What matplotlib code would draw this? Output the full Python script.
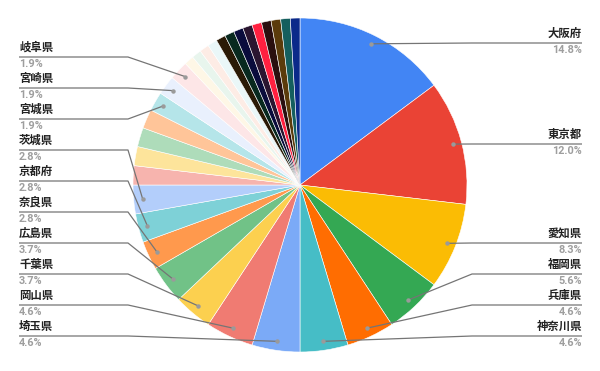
import numpy as np
import matplotlib.pyplot as plt

plt.rcParams['font.family'] = ['Noto Sans CJK JP', 'DejaVu Sans']

# slices clockwise from 12 o'clock (counts)
names = ['大阪府', '東京都', '愛知県', '福岡県', '兵庫県', '神奈川県', '埼玉県', '岡山県',
         '千葉県', '広島県', '奈良県', '京都府', '茨城県', '', '', '', '',
         '宮城県', '宮崎県', '岐阜県', '', '', '', '',
         '', '', '', '', '', '', '', '', '']
counts = [16, 13, 9, 6, 5, 5, 5, 5,
          4, 4, 3, 3, 3, 2, 2, 2, 2,
          2, 2, 2, 1, 1, 1, 1,
          1, 1, 1, 1, 1, 1, 1, 1, 1]
colors = ['#4285f4', '#ea4335', '#fbbc04', '#34a853', '#ff6d01', '#46bdc6', '#7baaf7', '#f07b72',
          '#fcd04f', '#71c287', '#ff994d', '#7ed1d7', '#b3cefb', '#f7b4ae', '#fde49b', '#aedcba', '#ffc599',
          '#b5e5e9', '#e9f0fd', '#fde6e7', '#fef7e6', '#e8f5ed', '#fdece5', '#eaf7f8',
          '#2a1a06', '#08291f', '#0a0c3c', '#2a1530', '#ff2040', '#2a0f0f', '#5b3b0b', '#155f5e', '#0b2a8a']

# label rows (y of the leader line, image pixels)
right_names = ['大阪府', '東京都', '愛知県', '福岡県', '兵庫県', '神奈川県']
right_rows = [43, 144, 243, 274, 305, 336]
left_names = ['岐阜県', '宮崎県', '宮城県', '茨城県', '京都府', '奈良県', '広島県', '千葉県', '岡山県', '埼玉県']
left_rows = [57, 88, 119, 150, 181, 212, 243, 274, 305, 336]

W, H = 600, 371
fig = plt.figure(figsize=(6, 3.71), dpi=100)
ax = fig.add_axes([0, 0, 1, 1])

cx, cy, R = 300, H - 185, 167
wedges, _ = ax.pie(counts, colors=colors, startangle=90, counterclock=False,
                   center=(cx, cy), radius=R,
                   wedgeprops=dict(edgecolor='white', linewidth=0.4))
ax.set_xlim(0, W)
ax.set_ylim(0, H)
ax.set_aspect('auto')
ax.axis('off')

total = sum(counts)
dot = {}
for w, n in zip(wedges, names):
    if not n:
        continue
    a = np.deg2rad((w.theta1 + w.theta2) / 2)
    dot[n] = (cx + 158 * np.cos(a), cy + 158 * np.sin(a))

pct = {n: '%.1f%%' % (100 * c / total) for n, c in zip(names, counts) if n}

lc = '#757575'
for side, lst, rows in [('r', right_names, right_rows), ('l', left_names, left_rows)]:
    for n, r in zip(lst, rows):
        ly = H - r
        dx, dy = dot[n]
        if side == 'r':
            xs = [dx, 472, 582]
            tx, ha = 582, 'right'
        else:
            xs = [dx, 128, 19]
            tx, ha = 19, 'left'
        ax.plot(xs, [dy, ly, ly], color=lc, lw=0.9, solid_capstyle='butt')
        ax.plot(dx, dy, 'o', color='#9a9a9a', ms=3.2, mec='none')
        ax.text(tx, ly + 3, n, ha=ha, va='bottom', fontsize=8.2,
                fontweight='bold', color='#222222')
        ax.text(tx, ly - 2, pct[n], ha=ha, va='top', fontsize=7.8,
                fontweight='bold', color='#9e9e9e', family=['Roboto', 'DejaVu Sans'])

fig.savefig('out.png', dpi=100)
